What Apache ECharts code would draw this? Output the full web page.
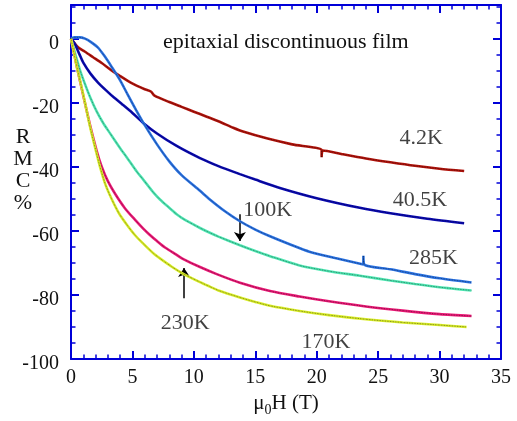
<!DOCTYPE html>
<html lang="en">
<head>
    <meta charset="UTF-8">
    <title>RMC vs field</title>
    <style>
        html, body { margin: 0; padding: 0; background: #fff; }
    </style>
</head>
<body>
    <div id="main" style="width: 517px; height: 421px;"></div>
    <script src="https://cdn.jsdelivr.net/npm/echarts@6/dist/echarts.min.js"></script>
    <script>
        // curves: [field (T), RMC %]
        var t4_2K = [[0,0],[0.3,-1.5],[0.6,-2.8],[1.14,-4.1],[1.8,-5.8],[2.5,-7.6],[3.3,-9.9],[4,-11.7],[4.94,-13.9],[6,-15.8],[6.5,-16.5],[6.8,-17.8],[8,-19.8],[9,-21.3],[10,-22.8],[11,-24.3],[12,-25.8],[13.2,-27.8],[14,-29],[16,-31.2],[18,-33],[20.4,-34.8],[20.4,-37],[20.5,-34.9],[22,-36],[24,-37.4],[26,-38.6],[28,-39.7],[30,-40.6],[32,-41.3]];
        var t40_5K = [[0,0],[0.33,-1.8],[0.7,-5],[1,-7.5],[1.6,-11],[2.2,-13.7],[2.9,-16.3],[3.5,-18.4],[4.2,-20.6],[5,-23.2],[5.9,-26.4],[7,-29.6],[8.6,-33.5],[10.5,-37.3],[12,-39.8],[13.75,-42.3],[15,-44],[17,-46.6],[20,-49.8],[23.5,-52.8],[26,-54.5],[29,-56.2],[32,-57.6]];
        var t100K = [[0,0],[0.3,0.4],[0.7,0.4],[1.14,0],[1.6,-1],[2.2,-2.8],[2.7,-5.3],[3.3,-8.75],[4,-13],[4.66,-17.8],[5.3,-22.3],[6,-27],[7,-33],[8,-38.3],[9,-42.6],[10.5,-47.5],[11.3,-50.2],[12.5,-53.8],[13.75,-57],[15,-59.6],[16.2,-61.7],[18,-64.5],[19.4,-66.5],[21.5,-68.5],[23.8,-70.5],[23.8,-67.8],[23.9,-70.6],[26,-72],[28,-73.5],[30,-74.8],[32.6,-76.1]];
        var t285K = [[0,0],[0.4,-5.5],[0.73,-9.8],[1.14,-14.2],[1.55,-18.2],[2.1,-22.8],[2.63,-26.4],[3.17,-29.5],[4,-34.2],[4.53,-37],[5.35,-41.5],[5.88,-44],[6.7,-48],[7.24,-50.2],[8.06,-53],[8.6,-54.8],[9.28,-56.6],[10.5,-59.1],[11.3,-60.6],[12,-61.8],[13.75,-64.5],[15,-66.3],[16.2,-67.9],[18.6,-70.8],[21,-72.6],[23.5,-74],[26,-75.5],[28,-76.6],[30,-77.6],[32.6,-78.6]];
        var t230K = [[0,0],[0.46,-8.5],[1,-17.8],[1.55,-27],[2.09,-35],[2.5,-40],[3,-44.5],[3.6,-48.5],[4.4,-53],[5.2,-56.5],[5.88,-59.3],[6.4,-61.2],[7,-63.2],[7.65,-65.2],[8.6,-67.5],[9.14,-68.8],[10.5,-71.3],[11.86,-73.5],[13.75,-76.2],[16.2,-78.8],[18.6,-80.5],[21,-82],[24,-83.6],[27,-84.9],[30,-86],[32.6,-86.6]];
        var t170K = [[0,0],[0.46,-8.5],[1,-17.5],[1.55,-27.5],[2.09,-36],[2.36,-40],[2.8,-45.5],[3.3,-50],[3.9,-54.5],[4.53,-58],[5.2,-61.3],[5.88,-64],[6.7,-67],[7.24,-68.6],[8.2,-71.2],[9.14,-73.4],[10.5,-76],[11.3,-77.4],[12,-78.6],[13.75,-80.8],[15,-82.2],[16.2,-83.4],[18.6,-85],[21,-86.3],[24,-87.6],[27,-88.6],[30,-89.4],[32.2,-90]];

        // curve labels and where they sit (data coords)
        var labelText = ['4.2K', '40.5K', '100K', '285K', '230K', '170K'];
        var labelX = [28.5, 28.4, 16, 29.5, 9.3, 20.75];
        var labelY = [-31, -50.4, -53.5, -68.5, -88.9, -94.8];

        // arrows: [x, yFrom, yTo]
        var arrows = [[13.75, -54.8, -63.2], [9.2, -81, -71.6]];

        var yTickLabels = [-100, -80, -60, -40, -20, 0];

        var curves = [
            { name: '4.2K', data: t4_2K, color: '#b4140c' },
            { name: '40.5K', data: t40_5K, color: '#0a0ab4' },
            { name: '100K', data: t100K, color: '#2b74e6' },
            { name: '285K', data: t285K, color: '#50eab5' },
            { name: '230K', data: t230K, color: '#ee1a78' },
            { name: '170K', data: t170K, color: '#dcf02a' }
        ];

        var axisBlue = '#0000d8';
        var serif = 'Liberation Serif';

        var series = [];
        curves.forEach(function (c) {
            series.push({
                type: 'line', name: c.name, data: c.data, showSymbol: false, silent: true,
                smooth: 0.25,
                lineStyle: { color: c.color, width: 2.6 }
            });
            // thin dark dotted line over each curve
            series.push({
                type: 'line', data: c.data, showSymbol: false, silent: true,
                smooth: 0.25,
                lineStyle: { color: '#000', width: 0.8, type: 'dotted', opacity: 0.6 }
            });
        });

        series.push({
            type: 'scatter',
            silent: true,
            symbolSize: 1,
            itemStyle: { color: 'rgba(0,0,0,0)' },
            data: labelText.map(function (t, i) { return { value: [labelX[i], labelY[i]], name: t }; }),
            label: {
                show: true, position: 'inside', formatter: '{b}',
                color: '#111', fontFamily: serif, fontSize: 22
            }
        });

        series.push({
            type: 'lines',
            coordinateSystem: 'cartesian2d',
            silent: true,
            symbol: ['none', 'arrow'],
            symbolSize: 9,
            lineStyle: { color: '#000', width: 1.5, opacity: 1 },
            data: arrows.map(function (a) { return { coords: [[a[0], a[1]], [a[0], a[2]]] }; })
        });

        function xAx(pos, showLabel) {
            return {
                type: 'value', position: pos, min: 0, max: 35, interval: 5,
                axisLine: { onZero: false, lineStyle: { color: axisBlue, width: 2 } },
                axisTick: { inside: true, length: 8, lineStyle: { color: axisBlue, width: 2 } },
                minorTick: { show: true, splitNumber: 5, length: 4.5, lineStyle: { color: axisBlue, width: 1.5 } },
                splitLine: { show: false },
                axisLabel: { show: showLabel, color: '#111', fontFamily: serif, fontSize: 20, margin: 9 }
            };
        }
        function yAx(pos, step, showLine, showLabel) {
            return {
                type: 'value', position: pos, min: -100, max: 10.5, interval: step, offset: 0,
                axisLine: { show: showLine, onZero: false, lineStyle: { color: axisBlue, width: 2 } },
                axisTick: { inside: true, length: step === 20 ? 8 : 4.5, lineStyle: { color: axisBlue, width: step === 20 ? 2 : 1.5 } },
                splitLine: { show: false },
                axisLabel: {
                    show: showLabel, margin: 12,
                    formatter: function (v) { return yTickLabels.indexOf(v) >= 0 ? '{v|' + v + '}' : ''; },
                    rich: { v: { color: '#111', fontFamily: serif, fontSize: 20, padding: [10, 0, 0, 0] } }
                }
            };
        }

        var xBottom = xAx('bottom', true);
        xBottom.name = '{a|μ}{s|0}{a|H (T)}';
        xBottom.nameLocation = 'middle';
        xBottom.nameGap = 30;
        xBottom.nameTextStyle = {
            rich: {
                a: { fontFamily: serif, fontSize: 21, color: '#111' },
                s: { fontFamily: serif, fontSize: 14, color: '#111', padding: [14, 0, 0, 0] }
            }
        };

        var myChart = echarts.init(document.getElementById('main'));
        var option = {
            animation: false,
            backgroundColor: '#fff',
            grid: { left: 71, right: 16, top: 5, bottom: 62, containLabel: false, outerBoundsMode: 'none' },
            xAxis: [xBottom, xAx('top', false)],
            yAxis: [
                yAx('left', 5, true, false),
                yAx('left', 20, false, true),
                yAx('right', 5, true, false),
                yAx('right', 20, false, false)
            ],
            graphic: [
                {
                    type: 'text', left: 163, top: 31,
                    style: { text: 'epitaxial discontinuous film', font: '22px "Liberation Serif"', fill: '#111' }
                },
                {
                    type: 'text', x: 23, y: 126,
                    style: { text: 'R\nM\nC\n%', font: '22px "Liberation Serif"', fill: '#111', align: 'center', lineHeight: 22 }
                }
            ],
            series: series
        };
        myChart.setOption(option);
    </script>
</body>
</html>
